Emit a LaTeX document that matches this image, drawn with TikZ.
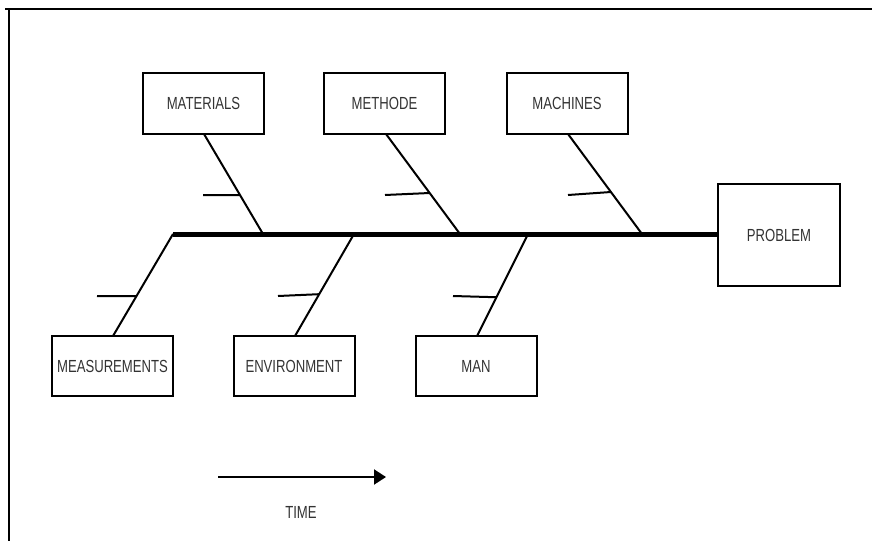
\documentclass[tikz,border=0pt]{standalone}
\usepackage{fontspec}
\setmainfont{Liberation Sans}
\usepackage{graphicx}
\usetikzlibrary{arrows.meta,calc}
\tikzset{
  box/.style={draw=black, line width=2pt, rectangle, minimum width=121pt, minimum height=61pt, inner sep=0pt, font=\fontsize{17.5pt}{18pt}\selectfont, text=black!80},
  bone/.style={line width=2pt},
  spine/.style={line width=4.5pt},
  tick/.style={line width=2pt},
  frame/.style={line width=2pt},
}
\newcommand{\lbl}[1]{\scalebox{0.75}[1]{#1}}
\begin{document}
\begin{tikzpicture}[x=1pt,y=-1pt]
\useasboundingbox (0,0) rectangle (872,541);
% frame
\coordinate (f1) at (5,9);
\coordinate (f2) at (872,9);
\coordinate (f3) at (9,9);
\coordinate (f4) at (9,541);
\draw[frame] (f1) -- (f2);
\draw[frame] (f3) -- (f4);
% boxes
\node[box] (mat) at (203.5,103.5) {\lbl{MATERIALS}};
\node[box] (met) at (384.5,103.5) {\lbl{METHODE}};
\node[box] (mac) at (567,103.5) {\lbl{MACHINES}};
\node[box, minimum width=122pt, minimum height=102pt] (prob) at (779,235) {\lbl{PROBLEM}};
\node[box, minimum height=60pt] (mea) at (112.5,366) {\lbl{MEASUREMENTS}};
\node[box, minimum height=60pt] (env) at (294,366) {\lbl{ENVIRONMENT}};
\node[box, minimum height=60pt] (man) at (476,366) {\lbl{MAN}};
% spine
\coordinate (s0) at (173,234.5);
\draw[spine] (s0) -- (prob.west |- s0);
% junctions
\coordinate (jmat) at (263,234);
\coordinate (jmet) at (460,234);
\coordinate (jmac) at (642,234);
\coordinate (jmea) at (173,234);
\coordinate (jenv) at (354,234);
\coordinate (jman) at (528,234);
% bones
\coordinate (bmat) at (204,134);
\coordinate (bmet) at (386,134);
\coordinate (bmac) at (568,134);
\coordinate (bmea) at (113,336);
\coordinate (benv) at (295,336);
\coordinate (bman) at (477,336);
\draw[bone] (bmat) -- (jmat);
\draw[bone] (bmet) -- (jmet);
\draw[bone] (bmac) -- (jmac);
\draw[bone] (bmea) -- (jmea);
\draw[bone] (benv) -- (jenv);
\draw[bone] (bman) -- (jman);
% ticks
\coordinate (tmat) at (203,195);
\coordinate (tmet) at (385,195);
\coordinate (tmac) at (568,195);
\coordinate (tmea) at (97,296);
\coordinate (tenv) at (278,296);
\coordinate (tman) at (453,296);
\draw[tick] (tmat) -- ($(bmat)!0.61!(jmat)$);
\draw[tick] (tmet) -- ($(bmet)!0.59!(jmet)$);
\draw[tick] (tmac) -- ($(bmac)!0.58!(jmac)$);
\draw[tick] (tmea) -- ($(bmea)!0.39!(jmea)$);
\draw[tick] (tenv) -- ($(benv)!0.41!(jenv)$);
\draw[tick] (tman) -- ($(bman)!0.38!(jman)$);
% time arrow
\coordinate (ta) at (218,477);
\coordinate (tb) at (386,477);
\draw[line width=2pt, -{Triangle[length=12pt,width=15pt]}] (ta) -- (tb);
\node[font=\fontsize{17.5pt}{18pt}\selectfont, text=black!80, inner sep=0pt] (time) at (301,512) {\lbl{TIME}};
\end{tikzpicture}
\end{document}
